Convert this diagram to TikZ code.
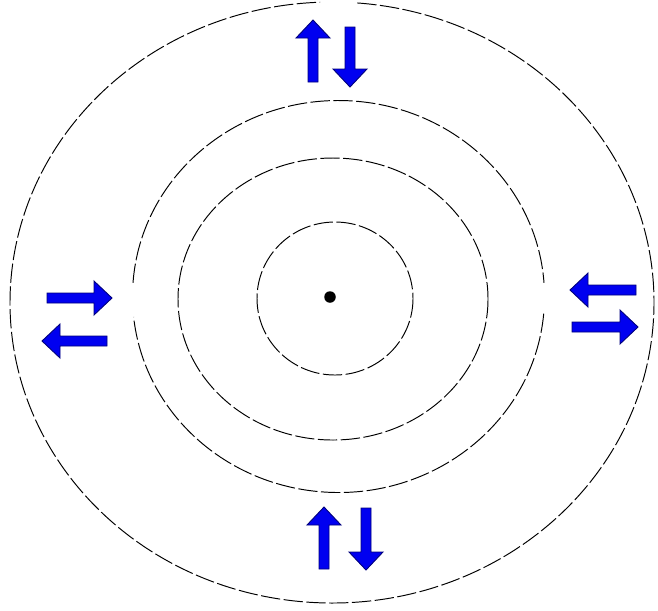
\documentclass[tikz,border=0pt]{standalone}
\usepackage{tikz}
\usetikzlibrary{calc}
\definecolor{flowblue}{HTML}{0000F0}
\definecolor{flowedge}{HTML}{00007A}

\begin{document}
\begin{tikzpicture}[
    x=0.02cm, y=-0.02cm,
    ring/.style={line width=0.55pt, dash pattern=on 11pt off 2pt},
    nucleus/.style={circle, fill=black, inner sep=0pt, minimum size=0.23cm},
    arrowbody/.style={fill=flowblue, draw=flowedge, line width=0.5pt, line join=miter},
    pics/flowarrow/.style={code={
        \draw[arrowbody] (0,-5) -- ({#1-18},-5) -- ({#1-18},-17) -- (#1,0)
          -- ({#1-18},17) -- ({#1-18},5) -- (0,5) -- cycle;}}
  ]
    \useasboundingbox (0,0) rectangle (658,610);

    % rings
    \draw[ring, shift={(332,302.5)}] (274.5:322 and 300.5)
      arc[start angle=274.5, end angle=627.9, x radius=322, y radius=300.5];
    \draw[ring, shift={(338.5,296.5)}] (5:206 and 196)
      arc[start angle=5, end angle=174, x radius=206, y radius=196];
    \draw[ring, shift={(338.5,296.5)}] (184:206 and 196)
      arc[start angle=184, end angle=356, x radius=206, y radius=196];
    \draw[ring] (333,299) ellipse[x radius=155, y radius=141];
    \draw[ring] (335,298.5) ellipse[x radius=78, y radius=76.5];

    \node[nucleus] (nucleus) at (330,297) {};

    % top pair
    \pic[rotate=90] (topup) at (313,82) {flowarrow=62};
    \pic[rotate=-90] (topdown) at (350,27) {flowarrow=60};
    % bottom pair
    \pic[rotate=90] (botup) at (324,569) {flowarrow=62};
    \pic[rotate=-90] (botdown) at (366,508) {flowarrow=62};
    % left pair
    \pic (leftout) at (47,298) {flowarrow=65};
    \pic[rotate=180] (leftin) at (107,341) {flowarrow=65};
    % right pair
    \pic[rotate=180] (rightin) at (636,290) {flowarrow=66};
    \pic (rightout) at (572,327) {flowarrow=66};
\end{tikzpicture}
\end{document}
